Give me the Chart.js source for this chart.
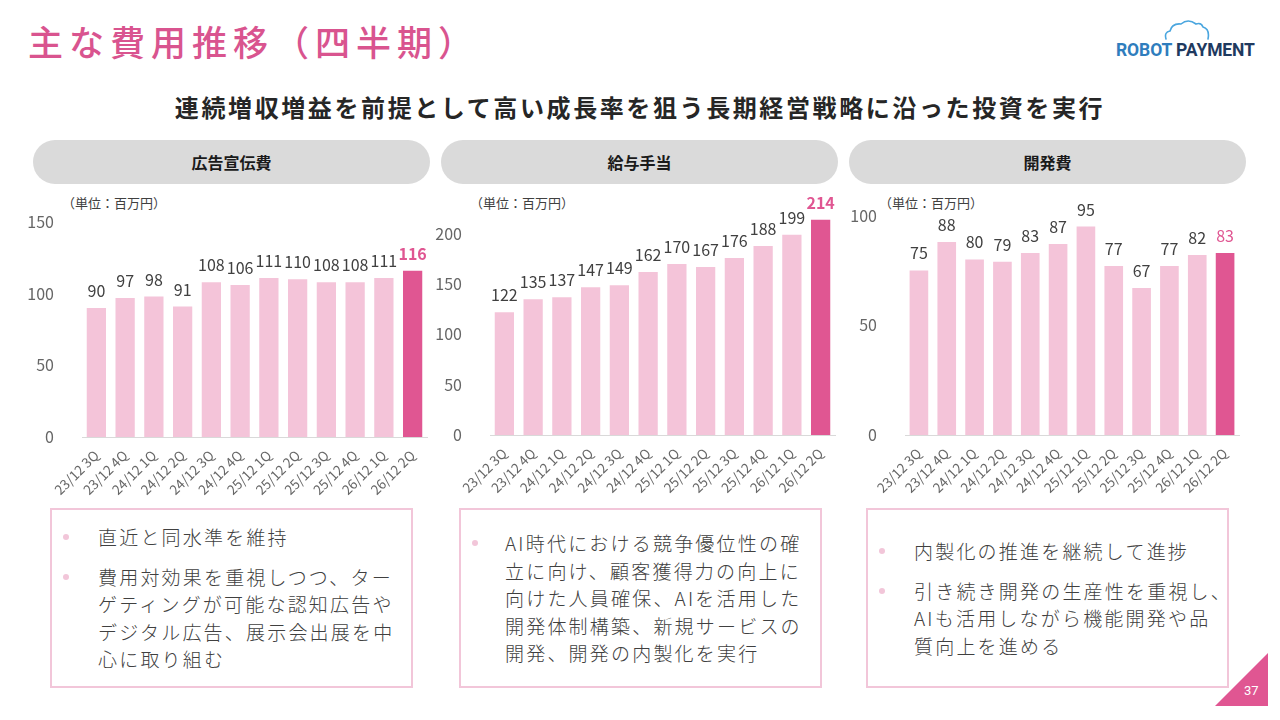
<!DOCTYPE html>
<html lang="ja">
<head>
<meta charset="utf-8">
<title>主な費用推移（四半期）</title>
<script src="https://cdn.jsdelivr.net/npm/chart.js@4.4.1/dist/chart.umd.min.js"></script>
<style>
  html, body { margin: 0; padding: 0; background: #fff; }
  body { width: 1280px; height: 720px; position: relative; overflow: hidden;
         font-family: "Noto Sans CJK JP", sans-serif; color: #404040; }
  .title { position: absolute; left: 28px; top: 16px; font-size: 35px; font-weight: 500;
           color: #d9548f; letter-spacing: 6px; line-height: 50px; }
  .logo { position: absolute; left: 1112px; top: 18px; width: 150px; height: 45px; }
  .logo-text { position: absolute; left: 1116px; top: 40px; font-family: Roboto, sans-serif;
               font-weight: 700; font-size: 17.5px; letter-spacing: -0.1px; white-space: nowrap; }
  .logo-text .r { color: #2f7dbd; }
  .logo-text .p { color: #1f3a5f; }
  .subtitle { position: absolute; left: 0; width: 1280px; top: 88px; text-align: center;
              font-size: 24px; font-weight: 700; color: #262626; letter-spacing: 2.6px; line-height: 38px; }
  .pill { position: absolute; top: 140px; height: 44px; width: 397px; border-radius: 22px;
          background: #dadada; text-align: center; line-height: 44px; font-size: 16px;
          font-weight: 700; color: #1a1a1a; }
  .unit { position: absolute; top: 193px; font-size: 13px; color: #404040; white-space: nowrap; }
  canvas { position: absolute; }
  .box { position: absolute; top: 508px; width: 359px; height: 176px; border: 2px solid #f2c6d9;
         display: flex; flex-direction: column; justify-content: center; }
  .item { position: relative; font-size: 19px; font-weight: 300; line-height: 27.5px; letter-spacing: 2.2px;
          white-space: nowrap; color: #404040; padding-left: 46px; }
  .item + .item { margin-top: 12px; }
  .item::before { content: ""; position: absolute; left: 11px; top: 11px; width: 6px; height: 6px;
                  border-radius: 50%; background: #f2c6d9; }
  .page { position: absolute; left: 1215px; top: 653px; width: 53px; height: 53px; }
  .page-num { position: absolute; left: 1244px; top: 683px; font-size: 13px; color: #fff;
              font-family: Roboto, sans-serif; }
</style>
</head>
<body>
<div class="title">主な費用推移（四半期）</div>

<svg class="logo" viewBox="0 0 150 45">
  <path d="M54 21 Q52 14 58 13 Q60 5 69 6 Q76 0 84 6 Q89 4 91 9 Q98 11 96 21"
        fill="none" stroke="#4aa6df" stroke-width="1.6" stroke-linecap="round"/>
</svg>
<div class="logo-text"><span class="r">ROBOT</span> <span class="p">PAYMENT</span></div>

<div class="subtitle">連続増収増益を前提として高い成長率を狙う長期経営戦略に沿った投資を実行</div>

<div class="pill" style="left:33px">広告宣伝費</div>
<div class="pill" style="left:441px">給与手当</div>
<div class="pill" style="left:849px">開発費</div>

<div class="unit" style="left:62px">（単位：百万円）</div>
<div class="unit" style="left:470px">（単位：百万円）</div>
<div class="unit" style="left:879px">（単位：百万円）</div>

<canvas id="chartAd" width="420" height="317" style="left:20px;top:190px;width:420px;height:317px"></canvas>
<canvas id="chartSalary" width="420" height="341" style="left:430px;top:164px;width:420px;height:341px"></canvas>
<canvas id="chartDev" width="420" height="319" style="left:840px;top:186px;width:420px;height:319px"></canvas>

<div class="box" style="left:50px">
  <div class="item">直近と同水準を維持</div>
  <div class="item">費用対効果を重視しつつ、ター<br>ゲティングが可能な認知広告や<br>デジタル広告、展示会出展を中<br>心に取り組む</div>
</div>
<div class="box" style="left:459px">
  <div class="item" style="padding-left:44px">AI時代における競争優位性の確<br>立に向け、顧客獲得力の向上に<br>向けた人員確保、AIを活用した<br>開発体制構築、新規サービスの<br>開発、開発の内製化を実行</div>
</div>
<div class="box" style="left:866px">
  <div class="item">内製化の推進を継続して進捗</div>
  <div class="item">引き続き開発の生産性を重視し、<br>AIも活用しながら機能開発や品<br>質向上を進める</div>
</div>

<svg class="page" viewBox="0 0 53 53"><polygon points="53,0 53,53 0,53" fill="#e05692"/></svg>
<div class="page-num">37</div>

<script>
// 四半期ラベル
const quarters = ['23/12 3Q', '23/12 4Q', '24/12 1Q', '24/12 2Q', '24/12 3Q', '24/12 4Q',
                  '25/12 1Q', '25/12 2Q', '25/12 3Q', '25/12 4Q', '26/12 1Q', '26/12 2Q'];

// 各費用（百万円）
const adValues = [90, 97, 98, 91, 108, 106, 111, 110, 108, 108, 111, 116];
const salaryValues = [122, 135, 137, 147, 149, 162, 170, 167, 176, 188, 199, 214];
const devValues = [75, 88, 80, 79, 83, 87, 95, 77, 67, 77, 82, 83];

// Y軸の目盛り
const adTicks = [0, 50, 100, 150];
const salaryTicks = [0, 50, 100, 150, 200];
const devTicks = [0, 50, 100];

const LIGHT = '#f4c4d9';
const HIGHLIGHT = '#e05692';
const TEXT = '#666666';
const FONT = '"Noto Sans CJK JP", sans-serif';

// 棒の上に数値を表示
const valueLabels = {
    id: 'valueLabels',
    afterDatasetsDraw(chart, args, opts) {
        const ctx = chart.ctx;
        const data = chart.data.datasets[0].data;
        ctx.save();
        ctx.textAlign = 'center';
        ctx.textBaseline = 'alphabetic';
        chart.getDatasetMeta(0).data.forEach((bar, i) => {
            const last = i === data.length - 1;
            ctx.fillStyle = last ? HIGHLIGHT : '#404040';
            ctx.font = (last && opts.bold ? '700 ' : '400 ') + '16px ' + FONT;
            ctx.fillText(data[i], bar.x, bar.y - 11);
        });
        ctx.restore();
    }
};

function makeChart(id, values, ticks, yMax, yWidth, padTop, padRight, boldLast) {
    new Chart(document.getElementById(id), {
        type: 'bar',
        data: {
            labels: quarters,
            datasets: [{
                data: values,
                backgroundColor: values.map((v, i) => i === values.length - 1 ? HIGHLIGHT : LIGHT),
                borderWidth: 0,
                barPercentage: 0.67,
                categoryPercentage: 1
            }]
        },
        options: {
            responsive: false,
            animation: false,
            layout: { padding: { top: padTop, right: padRight, left: 0, bottom: 0 } },
            plugins: {
                legend: { display: false },
                tooltip: { enabled: false },
                valueLabels: { bold: boldLast }
            },
            scales: {
                x: {
                    grid: { display: false },
                    border: { display: true, color: '#d9d9d9', width: 1 },
                    ticks: { autoSkip: false, minRotation: 45, maxRotation: 45, padding: 2,
                             color: TEXT, font: { family: FONT, size: 13.5 } },
                    afterFit: s => { s.height = 70; }
                },
                y: {
                    min: 0,
                    max: yMax,
                    grid: { display: false },
                    border: { display: false },
                    ticks: { padding: 20, color: TEXT, font: { family: FONT, size: 16 } },
                    afterBuildTicks: s => { s.ticks = ticks.map(v => ({ value: v })); },
                    afterFit: s => { s.width = yWidth; }
                }
            }
        },
        plugins: [valueLabels]
    });
}

makeChart('chartAd', adValues, adTicks, 150, 62, 32, 13, true);
makeChart('chartSalary', salaryValues, salaryTicks, 240, 60, 0, 15, true);
makeChart('chartDev', devValues, devTicks, 100, 65, 25, 21, false);
</script>
</body>
</html>
